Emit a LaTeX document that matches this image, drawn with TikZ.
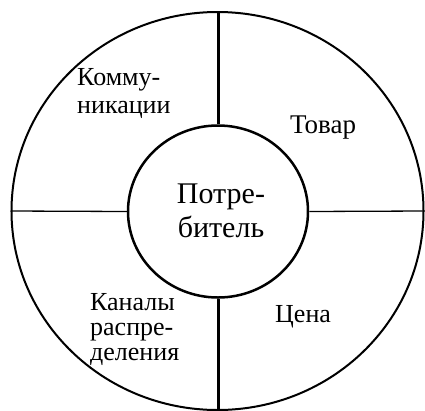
\documentclass[tikz,border=0pt]{standalone}
\usepackage{fontspec}
\setmainfont{Liberation Serif}
\usetikzlibrary{shapes.geometric}
\begin{document}
\begin{tikzpicture}[x=1pt,y=-1pt,
  ring/.style={draw, ellipse, inner sep=0pt},
  thickline/.style={line width=3pt},
  thinline/.style={line width=1.3pt},
  lbl/.style={inner sep=0pt, font=\fontsize{26}{28}\selectfont}]
\useasboundingbox (0,0) rectangle (425,410);
\node[ring, line width=2pt, minimum width=412pt, minimum height=398pt] (outer) at (217.5,211) {};
\node[ring, line width=2.5pt, minimum width=180pt, minimum height=172pt] (core) at (218,211.5) {};
\draw[thickline] (core.north) -- (core.north |- outer.north);
\draw[thickline] (core.south) -- (core.south |- outer.south);
\draw[thinline] (core.west) -- (outer.west);
\draw[thinline] (core.east) -- (outer.east);
\node[lbl, anchor=base west, align=left] (komm) at (77,113) {Комму-\\никации};
\node[lbl, anchor=base west, font=\fontsize{27}{28}\selectfont] (tovar) at (290,133) {Товар};
\node[lbl, anchor=base, align=center, font=\fontsize{30}{34}\selectfont] (potr) at (221,237) {Потре-\\битель};
\node[lbl, anchor=base west, align=left, font=\fontsize{26}{25}\selectfont] (kanal) at (90,360) {Каналы\\распре-\\деления};
\node[lbl, anchor=base west] (cena) at (275,322) {Цена};
\end{tikzpicture}
\end{document}
